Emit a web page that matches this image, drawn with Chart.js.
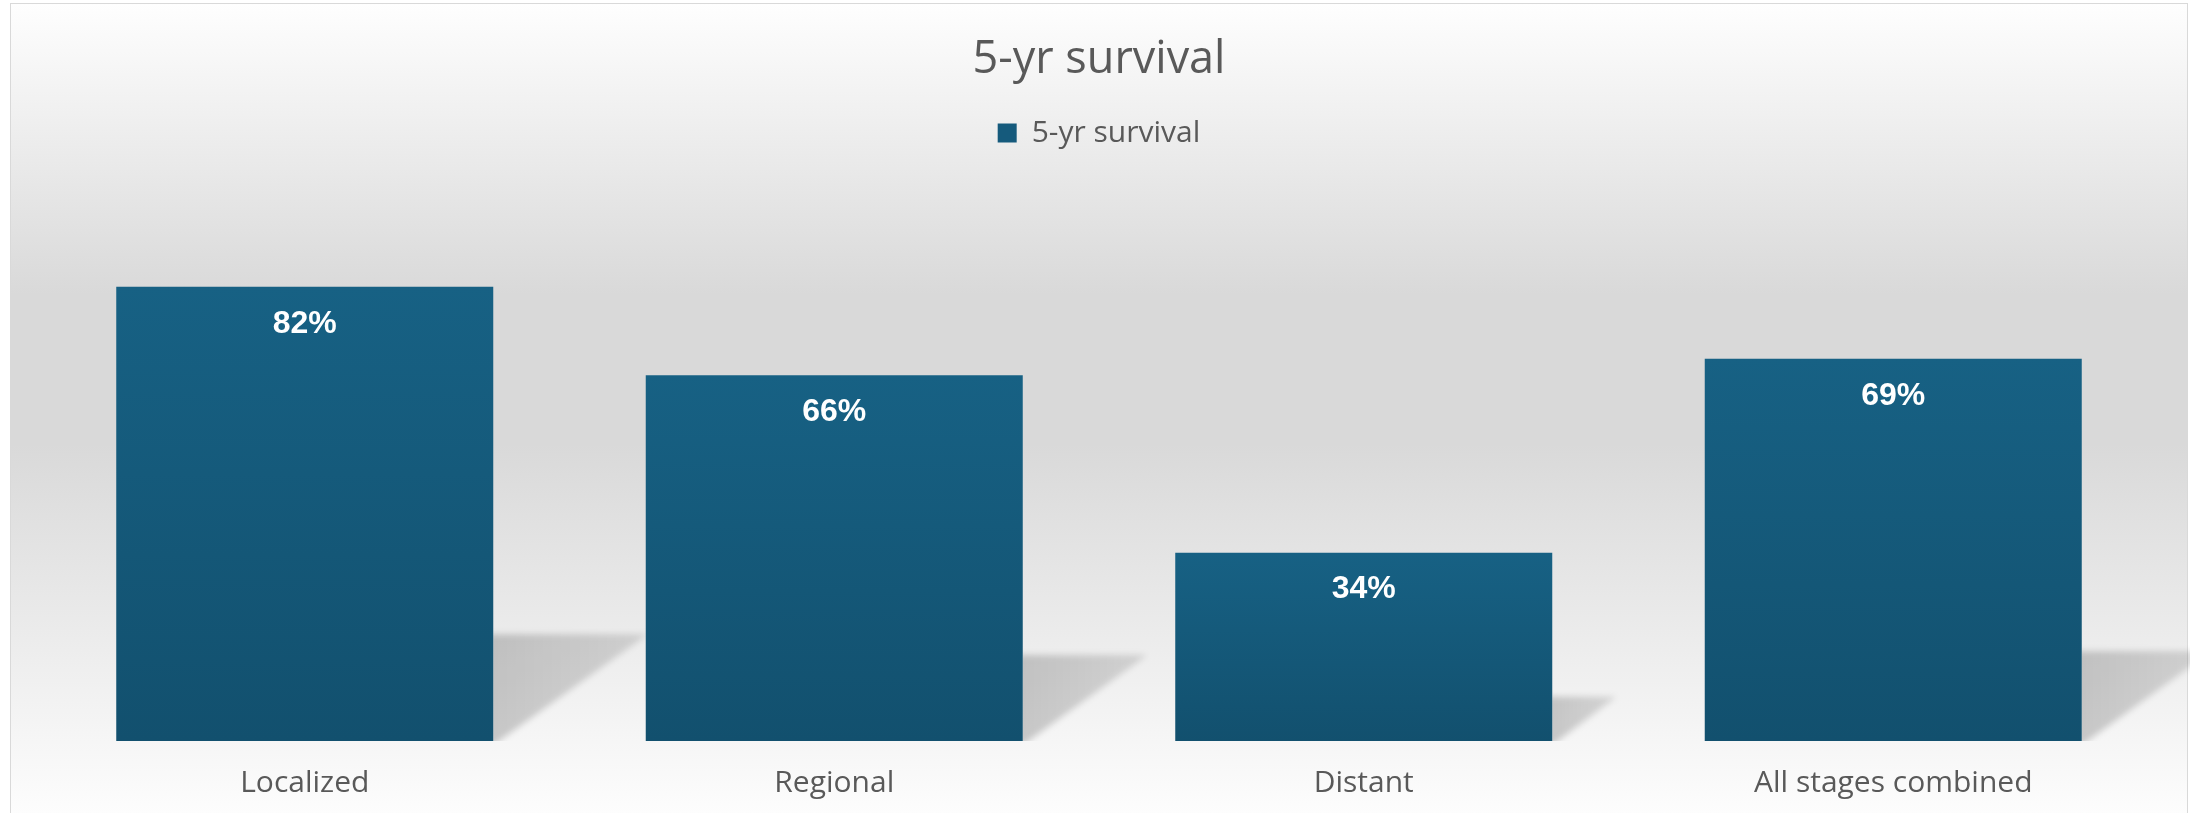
<!DOCTYPE html>
<html>
<head>
<meta charset="utf-8">
<title>5-yr survival</title>
<script src="https://cdn.jsdelivr.net/npm/chart.js@4/dist/chart.umd.min.js"></script>
<style>
  body { margin: 0; background: #ffffff; overflow: hidden; }
  #frame {
    position: absolute; left: 10px; top: 3px; width: 2176px; height: 840px;
    border: 1px solid #d9d9d9;
    background: linear-gradient(to bottom, #fefefe 0px, #d9d9d9 290px, #d9d9d9 440px, #fdfdfd 810px);
  }
  #wrap { position: absolute; left: 0; top: 0; width: 2190px; height: 839px; }
</style>
</head>
<body>
<div id="frame"></div>
<div id="wrap"><canvas id="barChart"></canvas></div>
<script>
const stages = ['Localized', 'Regional', 'Distant', 'All stages combined'];
const survival = [82, 66, 34, 69];
const seriesName = '5-yr survival';

const textFont = '"Open Sans", "Noto Sans", sans-serif';

// extra room under the legend, like the Excel plot area
const legendGap = {
  id: 'legendGap',
  beforeInit(chart) {
    const fit = chart.legend.fit;
    chart.legend.fit = function () {
      fit.bind(chart.legend)();
      this.height += 29;
    };
  }
};

// soft perspective shadow to the right of each bar
const barShadow = {
  id: 'barShadow',
  beforeDatasetsDraw(chart) {
    const ctx = chart.ctx;
    chart.getDatasetMeta(0).data.forEach(bar => {
      const h = bar.base - bar.y;
      const right = bar.x + bar.width / 2;
      const top = bar.base - h * 0.235;
      const dx = h * 0.34;
      ctx.save();
      ctx.beginPath();
      ctx.rect(right, 0, dx + 40, bar.base);
      ctx.clip();
      ctx.filter = 'blur(3px)';
      const g = ctx.createLinearGradient(right, 0, right + dx, 0);
      g.addColorStop(0, 'rgba(0,0,0,0.19)');
      g.addColorStop(1, 'rgba(0,0,0,0.12)');
      ctx.fillStyle = g;
      ctx.beginPath();
      ctx.moveTo(right - 10, top);
      ctx.lineTo(right + dx, top);
      ctx.lineTo(right, bar.base + 4);
      ctx.lineTo(right - 10, bar.base + 4);
      ctx.closePath();
      ctx.fill();
      ctx.restore();
    });
  }
};

// value labels inside the top of each bar
const barLabels = {
  id: 'barLabels',
  afterDatasetsDraw(chart) {
    const ctx = chart.ctx;
    ctx.save();
    ctx.fillStyle = '#ffffff';
    ctx.font = 'bold 32px "Liberation Sans", Arial, sans-serif';
    ctx.textAlign = 'center';
    ctx.textBaseline = 'middle';
    chart.getDatasetMeta(0).data.forEach((bar, i) => {
      ctx.fillText(survival[i] + '%', bar.x, bar.y + 37);
    });
    ctx.restore();
  }
};

const ctx = document.getElementById('barChart');

new Chart(ctx, {
  type: 'bar',
  data: {
    labels: stages,
    datasets: [{
      label: seriesName,
      data: survival,
      backgroundColor: function (c) {
        const chart = c.chart;
        if (!chart.chartArea || c.raw === undefined) return '#155a7c';
        const y = chart.scales.y;
        const top = y.getPixelForValue(c.raw);
        const bottom = y.getPixelForValue(0);
        const g = chart.ctx.createLinearGradient(0, top, 0, bottom);
        g.addColorStop(0, '#176184');
        g.addColorStop(1, '#12506e');
        return g;
      },
      borderWidth: 0,
      categoryPercentage: 1,
      barPercentage: 0.712
    }]
  },
  options: {
    responsive: true,
    maintainAspectRatio: false,
    animation: false,
    layout: { padding: { left: 40, right: 32, top: 0, bottom: 14 } },
    plugins: {
      title: {
        display: true,
        text: seriesName,
        color: '#595959',
        font: { family: textFont, size: 45, weight: 'normal' },
        padding: { top: 33, bottom: 21 }
      },
      legend: {
        display: true,
        labels: {
          color: '#595959',
          font: { family: textFont, size: 30 },
          boxWidth: 19,
          boxHeight: 19,
          padding: 10,
          generateLabels: () => [{
            text: seriesName,
            fillStyle: '#155a7c',
            strokeStyle: '#155a7c',
            lineWidth: 0,
            fontColor: '#595959',
            datasetIndex: 0
          }]
        }
      },
      tooltip: { enabled: false }
    },
    scales: {
      x: {
        grid: { display: false, drawTicks: false },
        border: { display: false },
        ticks: {
          color: '#595959',
          font: { family: textFont, size: 30 },
          padding: 24
        }
      },
      y: {
        display: false,
        min: 0,
        max: 100,
        beginAtZero: true
      }
    }
  },
  plugins: [legendGap, barShadow, barLabels]
});
</script>
</body>
</html>
